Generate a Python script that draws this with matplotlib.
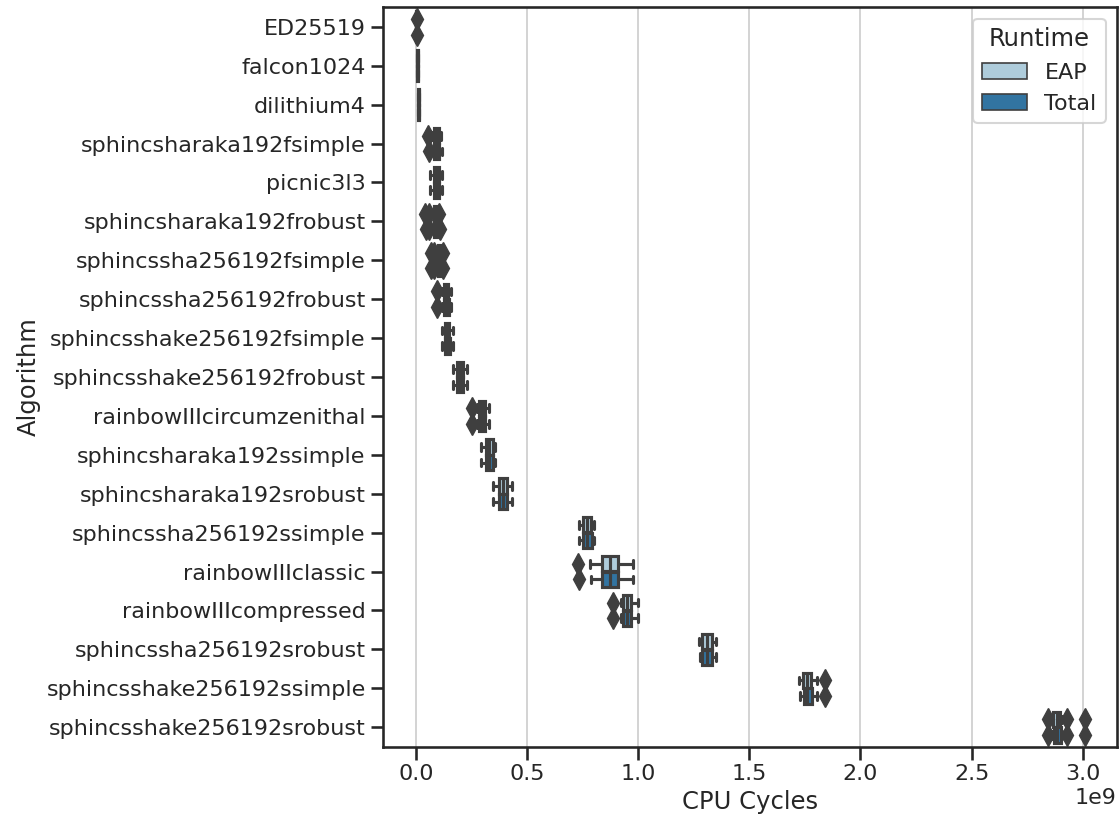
import matplotlib
matplotlib.use("Agg")
import matplotlib.pyplot as plt
import seaborn as sns
from matplotlib.patches import Patch

# CPU cycles per signature algorithm, in millions of cycles
algorithms = ["ED25519", "falcon1024", "dilithium4", "sphincsharaka192fsimple",
              "picnic3l3", "sphincsharaka192frobust", "sphincssha256192fsimple",
              "sphincssha256192frobust", "sphincsshake256192fsimple",
              "sphincsshake256192frobust", "rainbowIIIcircumzenithal",
              "sphincsharaka192ssimple", "sphincsharaka192srobust",
              "sphincssha256192ssimple", "rainbowIIIclassic", "rainbowIIIcompressed",
              "sphincssha256192srobust", "sphincsshake256192ssimple",
              "sphincsshake256192srobust"]

# EAP runtime
eap_lo = [0.5, 5, 9, 72, 63, 70, 90, 117, 115, 168, 275, 293, 347, 735, 784, 920, 1275, 1725, 2862]
eap_q1 = [1, 6, 10, 80, 80, 80, 98, 125, 128, 185, 283, 315, 372, 752, 835, 932, 1285, 1743, 2868]
eap_med = [1.5, 7, 11, 90, 90, 87, 104, 134, 139, 197, 296, 329, 389, 769, 872, 949, 1308, 1760, 2884]
eap_q3 = [2, 8, 13, 101, 102, 95, 110, 145, 150, 209, 309, 344, 407, 789, 909, 967, 1331, 1779, 2900]
eap_hi = [3, 9, 14, 114, 116, 104, 117, 155, 167, 229, 329, 355, 432, 799, 976, 999, 1349, 1805, 2905]
eap_fliers = [[5], [], [], [55], [], [42, 57, 105], [65, 80, 122], [93], [], [], [252],
              [], [], [], [730], [887], [], [1840], [2844, 2930, 3009]]

# Total runtime
tot_lo = [0.5, 5, 9, 72, 63, 70, 90, 117, 115, 168, 275, 293, 347, 735, 785, 921, 1276, 1726, 2862]
tot_q1 = [1, 6, 10, 81, 81, 81, 99, 126, 129, 186, 284, 316, 373, 753, 836, 933, 1286, 1744, 2869]
tot_med = [1.5, 7, 11, 91, 91, 88, 105, 135, 140, 198, 297, 330, 390, 770, 873, 950, 1309, 1761, 2885]
tot_q3 = [2, 8, 13, 102, 103, 96, 111, 146, 151, 210, 310, 345, 408, 790, 910, 968, 1332, 1780, 2901]
tot_hi = [3, 9, 14, 115, 117, 105, 118, 156, 168, 230, 330, 356, 433, 800, 977, 1000, 1350, 1806, 2906]
tot_fliers = [[6], [], [], [56], [], [43, 58, 106], [66, 81, 123], [94], [], [], [253],
              [], [], [], [731], [888], [], [1841], [2845, 2931, 3010]]

runtimes = ["EAP", "Total"]
colors = ["#aeccdb", "#3274a1"]
gray = "#3f3f3f"

sns.set_theme(style="ticks", context="talk")
plt.rcParams.update({
    "xtick.labelsize": 16,
    "ytick.labelsize": 16,
    "axes.labelsize": 17.5,
    "legend.fontsize": 16,
    "legend.title_fontsize": 17.5,
})

fig, ax = plt.subplots(figsize=(11.2, 8.25), dpi=100)
fig.subplots_adjust(left=0.342, right=0.997, top=0.991, bottom=0.095)


def make_stats(lo, q1, med, q3, hi, fliers):
    scale = 1e6
    return [dict(whislo=lo[i] * scale, q1=q1[i] * scale, med=med[i] * scale,
                 q3=q3[i] * scale, whishi=hi[i] * scale,
                 fliers=[f * scale for f in fliers[i]])
            for i in range(len(lo))]


groups = [make_stats(eap_lo, eap_q1, eap_med, eap_q3, eap_hi, eap_fliers),
          make_stats(tot_lo, tot_q1, tot_med, tot_q3, tot_hi, tot_fliers)]
offsets = [-0.2, 0.2]
lw = 2.25

for stats, off, col in zip(groups, offsets, colors):
    pos = [i + off for i in range(len(algorithms))]
    ax.bxp(stats, positions=pos, widths=0.392, orientation="horizontal",
           patch_artist=True, manage_ticks=False,
           boxprops=dict(facecolor=col, edgecolor=gray, linewidth=lw),
           medianprops=dict(color=gray, linewidth=lw),
           whiskerprops=dict(color=gray, linewidth=lw),
           capprops=dict(color=gray, linewidth=lw),
           flierprops=dict(marker="d", markerfacecolor=gray, markeredgecolor=gray,
                           markersize=11, linestyle="none"),
           zorder=2)

ax.set_yticks(range(len(algorithms)))
ax.set_yticklabels(algorithms)
ax.set_ylim(len(algorithms) - 0.5, -0.5)
ax.set_xlim(-0.149e9, 3.153e9)
ax.xaxis.grid(True, color="#d0d0d0", linewidth=1.3, zorder=0)
ax.set_axisbelow(True)
ax.set_xlabel("CPU Cycles")
ax.set_ylabel("Algorithm")

handles = [Patch(facecolor=c, edgecolor=gray, linewidth=1.2, label=r)
           for c, r in zip(colors, runtimes)]
ax.legend(handles=handles, title="Runtime", loc="upper right")

fig.savefig("out.png", dpi=100)
